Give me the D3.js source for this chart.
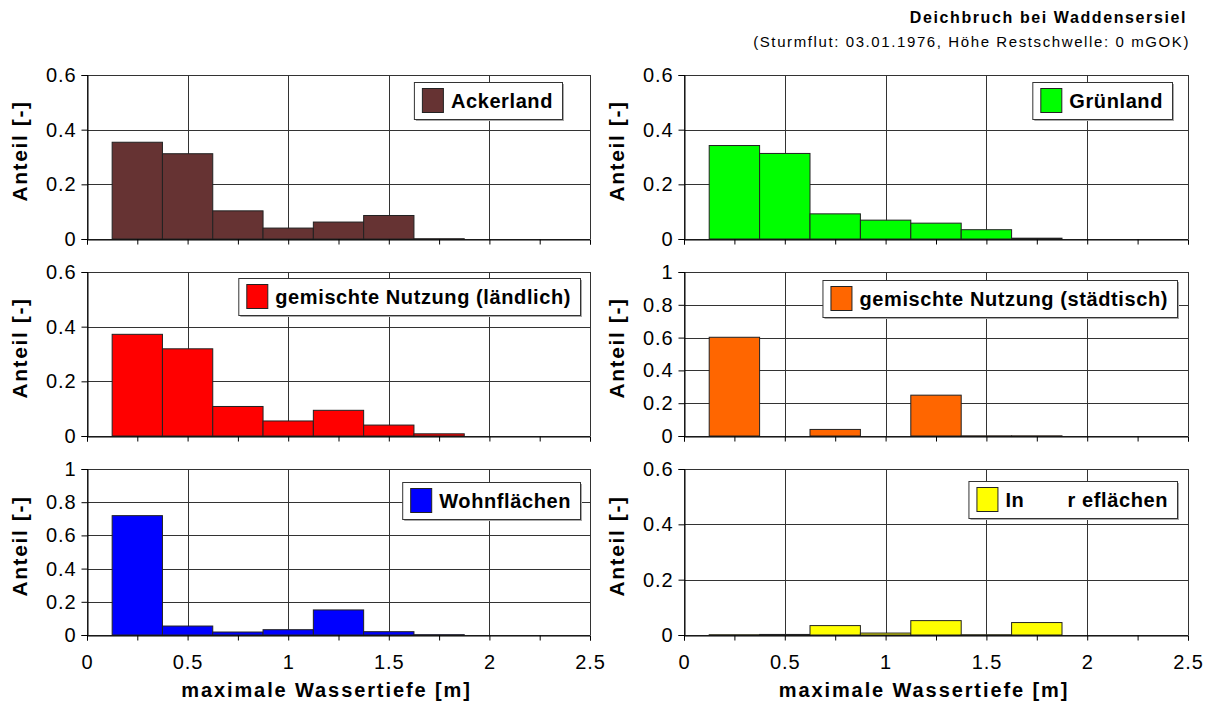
<!DOCTYPE html>
<html>
<head>
<meta charset="utf-8">
<script src="https://cdn.jsdelivr.net/npm/d3@7"></script>
<style>
  body { margin: 0; background: #fff; }
  text { font-family: "Liberation Sans", Arial, sans-serif; }
</style>
</head>
<body>
<svg id="chart" width="1214" height="701"></svg>
<script>
// data: share of area per bin of maximum water depth (bin width 0.25 m)
const binCenters = [0.25, 0.5, 0.75, 1.0, 1.25, 1.5, 1.75];
const ackerland = [0.354, 0.312, 0.103, 0.040, 0.062, 0.086, 0.001];
const gruenland = [0.342, 0.313, 0.092, 0.069, 0.058, 0.034, 0.003];
const laendlich = [0.372, 0.319, 0.108, 0.055, 0.094, 0.040, 0.008];
const staedtisch = [0.602, 0.000, 0.040, 0.000, 0.249, 0.001, 0.001];
const wohnflaechen = [0.719, 0.054, 0.018, 0.032, 0.151, 0.020, 0.002];
const industrie = [0.001, 0.002, 0.034, 0.007, 0.052, 0.001, 0.045];

const labels = ['Ackerland', 'Grünland', 'gemischte Nutzung (ländlich)',
  'gemischte Nutzung (städtisch)', 'Wohnflächen', 'In       r eflächen'];
const yMaxes = [0.6, 0.6, 0.6, 1, 1, 0.6];
const xTicks = [0, 0.5, 1, 1.5, 2, 2.5];

const binWidth = 0.25;
const svg = d3.select('#chart');

// layout
const cols = [{ left: 87, right: 590 }, { left: 684, right: 1188 }];
const rows = [{ top: 75, bottom: 239 }, { top: 272, bottom: 436 }, { top: 469, bottom: 635 }];

const panels = [
  { values: ackerland, color: '#663333', col: 0, row: 0, legendRight: 562, legendTop: 82 },
  { values: gruenland, color: '#00ff00', col: 1, row: 0, legendRight: 1172, legendTop: 82 },
  { values: laendlich, color: '#ff0000', col: 0, row: 1, legendRight: 580, legendTop: 278 },
  { values: staedtisch, color: '#ff6600', col: 1, row: 1, legendRight: 1177, legendTop: 280 },
  { values: wohnflaechen, color: '#0000ff', col: 0, row: 2, legendRight: 580, legendTop: 482 },
  { values: industrie, color: '#ffff00', col: 1, row: 2, legendRight: 1177, legendTop: 481 }
];

const fmt = d => String(+d.toFixed(1));

panels.forEach((p, i) => {
  const c = cols[p.col];
  const r = rows[p.row];
  const x = d3.scaleLinear().domain([0, 2.5]).range([c.left, c.right]);
  const y = d3.scaleLinear().domain([0, yMaxes[i]]).range([r.bottom, r.top]);
  const yTicks = d3.range(0, yMaxes[i] + 1e-9, 0.2);
  const g = svg.append('g');

  // gridlines
  g.selectAll('.hgrid').data(yTicks).enter().append('line')
    .attr('x1', c.left).attr('x2', c.right)
    .attr('y1', d => Math.round(y(d)) + 0.5).attr('y2', d => Math.round(y(d)) + 0.5)
    .attr('stroke', '#333').attr('stroke-width', 1);
  g.selectAll('.vgrid').data(xTicks).enter().append('line')
    .attr('x1', d => Math.round(x(d)) + 0.5).attr('x2', d => Math.round(x(d)) + 0.5)
    .attr('y1', r.top).attr('y2', r.bottom)
    .attr('stroke', '#333').attr('stroke-width', 1);

  // bars
  g.selectAll('.bar').data(binCenters).enter().append('rect')
    .attr('x', d => x(d - binWidth / 2))
    .attr('width', d => x(d + binWidth / 2) - x(d - binWidth / 2))
    .attr('y', (d, j) => y(p.values[j]))
    .attr('height', (d, j) => y(0) - y(p.values[j]))
    .attr('fill', p.color)
    .attr('stroke', '#222')
    .attr('stroke-width', 1);

  // y axis
  const yAxis = g.append('g')
    .attr('transform', `translate(${c.left + 0.5},0)`)
    .call(d3.axisLeft(y).tickValues(yTicks).tickFormat(fmt).tickSize(6).tickPadding(5));
  yAxis.select('.domain').attr('stroke', '#000');
  yAxis.selectAll('text').style('font-size', '20px').style('letter-spacing', '0.9px').attr('fill', '#000');

  // x axis
  const xAxis = g.append('g')
    .attr('transform', `translate(0,${r.bottom + 0.5})`)
    .call(d3.axisBottom(x).tickValues(d3.range(0, 2.5001, 0.25)).tickSize(5).tickFormat(''));
  xAxis.select('.domain').attr('stroke', '#000');
  if (p.row === 2) {
    xAxis.selectAll('.tick').filter(d => xTicks.some(t => Math.abs(t - d) < 1e-9))
      .append('text')
      .attr('y', 19).attr('dy', '0.71em')
      .attr('fill', '#000')
      .attr('text-anchor', 'middle')
      .style('font-size', '20px')
      .style('letter-spacing', '0.9px')
      .text(d => fmt(d));
    g.append('text')
      .attr('x', (c.left + c.right) / 2 - 12)
      .attr('y', 697)
      .attr('text-anchor', 'middle')
      .style('font-size', '20px')
      .style('font-weight', 'bold')
      .style('letter-spacing', '1.9px')
      .text('maximale Wassertiefe [m]');
  }

  // y label
  g.append('text')
    .attr('transform', `translate(${c.left - 60},${(r.top + r.bottom) / 2 - 6}) rotate(-90)`)
    .attr('text-anchor', 'middle')
    .style('font-size', '21px')
    .style('font-weight', 'bold')
    .style('letter-spacing', '1.6px')
    .text('Anteil [-]');

  // legend
  const lg = g.append('g');
  const txt = lg.append('text')
    .style('font-size', '20px')
    .style('font-weight', 'bold')
    .style('letter-spacing', '0.6px')
    .style('white-space', 'pre')
    .attr('xml:space', 'preserve')
    .text(labels[i]);
  const tw = txt.node().getComputedTextLength();
  const boxW = tw + 46;
  const boxH = 37;
  const bx = p.legendRight - boxW;
  const by = p.legendTop;
  lg.insert('rect', 'text')
    .attr('x', bx + 2).attr('y', by + 2).attr('width', boxW).attr('height', boxH)
    .attr('fill', '#aaa');
  lg.insert('rect', 'text')
    .attr('x', bx + 0.5).attr('y', by + 0.5).attr('width', boxW).attr('height', boxH)
    .attr('fill', '#fff').attr('stroke', '#333');
  lg.append('rect')
    .attr('x', bx + 8.5).attr('y', by + 6.5).attr('width', 21).attr('height', 24)
    .attr('fill', p.color).attr('stroke', '#222');
  txt.attr('x', bx + 37).attr('y', by + 26);
});

// title
svg.append('text')
  .attr('x', 1187).attr('y', 23)
  .attr('text-anchor', 'end')
  .style('font-size', '16px')
  .style('font-weight', 'bold')
  .style('letter-spacing', '1.6px')
  .text('Deichbruch bei Waddensersiel');
svg.append('text')
  .attr('x', 1190).attr('y', 47)
  .attr('text-anchor', 'end')
  .style('font-size', '15px')
  .style('letter-spacing', '1.6px')
  .text('(Sturmflut: 03.01.1976, Höhe Restschwelle: 0 mGOK)');
</script>
</body>
</html>
